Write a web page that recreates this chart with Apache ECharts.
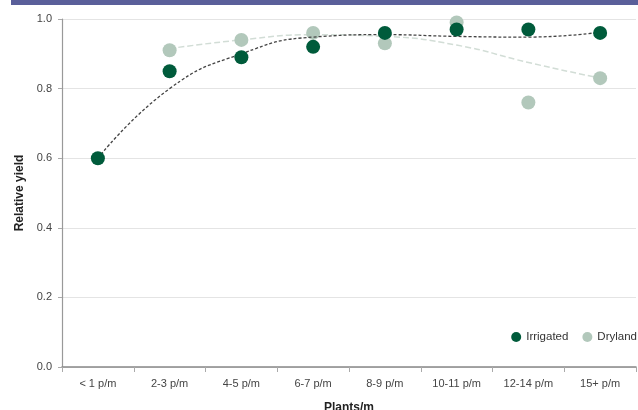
<!DOCTYPE html>
<html>
<head>
<meta charset="utf-8">
<script src="https://cdn.jsdelivr.net/npm/echarts@6/dist/echarts.min.js"></script>
<style>
  html, body { margin: 0; padding: 0; background: #fff; }
  #main { width: 638px; height: 410px; }
</style>
</head>
<body>
<div id="main"></div>
<script>
var categories = ['< 1 p/m', '2-3 p/m', '4-5 p/m', '6-7 p/m', '8-9 p/m', '10-11 p/m', '12-14 p/m', '15+ p/m'];
var irrigated = [0.60, 0.85, 0.89, 0.92, 0.96, 0.97, 0.97, 0.96];
var dryland = [null, 0.91, 0.94, 0.96, 0.93, 0.99, 0.76, 0.83];
// trend lines
var irrigatedTrend = [0.60, 0.80, 0.90, 0.948, 0.955, 0.95, 0.948, 0.962];
var drylandTrend = [null, 0.915, 0.94, 0.955, 0.95, 0.925, 0.875, 0.83];
var yTicks = [0, 0.2, 0.4, 0.6, 0.8, 1.0];

document.addEventListener('DOMContentLoaded', function() {
    var myChart = echarts.init(document.getElementById('main'));
    var font = 'Liberation Sans, Arial, sans-serif';

    var option = {
        animation: false,
        textStyle: { fontFamily: font },
        graphic: [
            { type: 'rect', left: 11, top: 0, shape: { width: 627, height: 5 }, style: { fill: '#5a5f9a' } }
        ],
        grid: { left: 62, right: 2, top: 19, bottom: 43, outerBoundsMode: 'none' },
        legend: {
            right: -4,
            top: 326,
            itemWidth: 10,
            itemHeight: 10,
            itemGap: 14,
            textStyle: { fontSize: 11.5, color: '#333', fontFamily: font },
            data: [
                { name: 'Irrigated', icon: 'circle' },
                { name: 'Dryland', icon: 'circle' }
            ]
        },
        xAxis: {
            type: 'category',
            data: categories,
            boundaryGap: true,
            name: 'Plants/m',
            nameLocation: 'middle',
            nameGap: 35,
            nameTextStyle: { fontSize: 12, fontWeight: 'bold', color: '#222' },
            axisLine: { lineStyle: { color: '#888', width: 1.5 } },
            axisTick: { show: true, length: 5, lineStyle: { color: '#aaa' } },
            axisLabel: { fontSize: 11, color: '#444', margin: 11, interval: 0 }
        },
        yAxis: {
            type: 'value',
            min: 0,
            max: 1,
            interval: 0.2,
            name: 'Relative yield',
            nameLocation: 'middle',
            nameGap: 36,
            nameTextStyle: { fontSize: 12, fontWeight: 'bold', color: '#222' },
            axisLine: { show: true, lineStyle: { color: '#999', width: 1.2 } },
            axisTick: { show: true, length: 4, lineStyle: { color: '#aaa' } },
            axisLabel: {
                fontSize: 11, color: '#444', margin: 10,
                formatter: function (v) { return v.toFixed(1); }
            },
            splitLine: { lineStyle: { color: '#e4e4e4', width: 1 } }
        },
        series: [
            {
                name: 'DrylandTrend',
                type: 'line',
                data: drylandTrend,
                smooth: 0.5,
                showSymbol: false,
                silent: true,
                lineStyle: { color: '#d2ddd6', width: 1.5, type: 'dashed' },
                z: 1
            },
            {
                name: 'Dryland',
                type: 'scatter',
                data: dryland,
                symbolSize: 14,
                itemStyle: { color: '#b2c8bb', opacity: 1 },
                z: 2
            },
            {
                name: 'IrrigatedTrend',
                type: 'line',
                data: irrigatedTrend,
                smooth: 0.5,
                showSymbol: false,
                silent: true,
                lineStyle: { color: '#444', width: 1.3, type: [3, 2] },
                z: 3
            },
            {
                name: 'Irrigated',
                type: 'scatter',
                data: irrigated,
                symbolSize: 14,
                itemStyle: { color: '#005b3b', opacity: 1 },
                z: 4
            }
        ]
    };

    myChart.setOption(option);
});
</script>
</body>
</html>
